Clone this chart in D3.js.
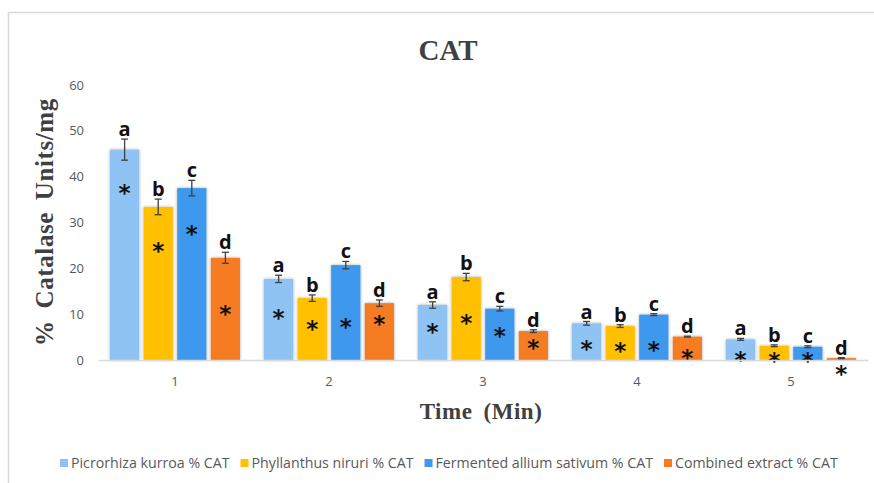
<!DOCTYPE html>
<html>
<head>
<meta charset="utf-8">
<script src="https://cdn.jsdelivr.net/npm/d3@7"></script>
<style>
	body { margin: 0; background: #fff; }
	svg { display: block; }
</style>
</head>
<body>
<div id="chart"></div>
<script>
(function () {
'use strict';

// data
var times = ["1", "2", "3", "4", "5"];
var seriesNames = [
	"Picrorhiza kurroa % CAT",
	"Phyllanthus niruri % CAT",
	"Fermented allium sativum % CAT",
	"Combined extract % CAT"
];
var seriesColors = ["#8ec3f4", "#ffc000", "#3d98ee", "#f57b22"];
var letters = ["a", "b", "c", "d"];

var picrorhiza = [45.9, 17.7, 12.0, 8.0, 4.5];
var phyllanthus = [33.4, 13.5, 18.1, 7.4, 3.1];
var allium = [37.5, 20.7, 11.2, 9.9, 2.9];
var combined = [22.3, 12.4, 6.3, 5.1, 0.4];

var picrorhizaErr = [2.3, 0.8, 0.7, 0.4, 0.2];
var phyllanthusErr = [1.7, 0.7, 0.8, 0.3, 0.2];
var alliumErr = [1.7, 0.8, 0.5, 0.2, 0.2];
var combinedErr = [1.2, 0.7, 0.3, 0.1, 0.1];

// where the asterisk sits inside each bar (data units)
var picrorhizaStar = [37.7, 10.5, 7.4, 3.8, 1.3];
var phyllanthusStar = [25.1, 8.1, 9.4, 3.3, 1.1];
var alliumStar = [28.8, 8.5, 6.5, 3.6, 1.1];
var combinedStar = [11.3, 9.2, 3.9, 1.8, -1.7];

var yTicks = [0, 10, 20, 30, 40, 50, 60];

var values = [picrorhiza, phyllanthus, allium, combined];
var errors = [picrorhizaErr, phyllanthusErr, alliumErr, combinedErr];
var stars = [picrorhizaStar, phyllanthusStar, alliumStar, combinedStar];

var width = 874, height = 483;
var margin = {top: 85, right: 6, bottom: 123, left: 98};

var svg = d3.select("#chart").append("svg")
	.attr("width", width)
	.attr("height", height);

var defs = svg.append("defs");
var shadow = defs.append("filter").attr("id", "shadow")
	.attr("x", "-20%").attr("y", "-10%").attr("width", "140%").attr("height", "120%");
shadow.append("feDropShadow")
	.attr("dx", 0).attr("dy", 0).attr("stdDeviation", 1.6)
	.attr("flood-color", "#000").attr("flood-opacity", 0.35);

// chart frame (only top and left visible in reference)
svg.append("path")
	.attr("d", "M8.5," + height + "V12.5H" + width)
	.attr("fill", "none")
	.attr("stroke", "#d9d9d9")
	.attr("stroke-width", 1.5);

var x0 = d3.scaleBand()
	.domain(times)
	.range([margin.left, width - margin.right]);

var x1 = d3.scaleBand()
	.domain(d3.range(seriesNames.length))
	.range([12, x0.bandwidth() - 12])
	.paddingInner(0.13);

var y = d3.scaleLinear()
	.domain([0, 60])
	.range([height - margin.bottom, margin.top]);

var serif = "'Liberation Serif', 'Times New Roman', serif";

// title
svg.append("text")
	.attr("x", 448).attr("y", 60)
	.attr("text-anchor", "middle")
	.attr("font-family", serif)
	.attr("font-weight", "bold")
	.attr("font-size", "29px")
	.attr("fill", "#404040")
	.text("CAT");

// y axis (labels only)
svg.append("g")
	.selectAll("text")
	.data(yTicks)
	.enter().append("text")
		.attr("x", 84)
		.attr("y", function(d){ return y(d); })
		.attr("dy", "0.35em")
		.attr("text-anchor", "end")
		.attr("font-family", "'Open Sans', 'Liberation Sans', sans-serif")
		.attr("font-size", "13px")
		.attr("fill", "#595959")
		.text(function(d){ return d; });

svg.append("text")
	.attr("transform", "translate(53,222) rotate(-90)")
	.attr("text-anchor", "middle")
	.attr("font-family", serif)
	.attr("font-weight", "bold")
	.attr("font-size", "25px")
	.attr("letter-spacing", "0.6px")
	.attr("word-spacing", "5px")
	.attr("fill", "#404040")
	.text("% Catalase Units/mg");

// bars
var groups = svg.append("g").selectAll("g")
	.data(times)
	.enter().append("g")
		.attr("transform", function(d){ return "translate(" + x0(d) + ",0)"; });

groups.each(function(t, ti){
	var g = d3.select(this);
	seriesNames.forEach(function(name, si){
		var v = values[si][ti];
		var e = errors[si][ti];
		var bx = x1(si);
		var bw = x1.bandwidth();
		var cx = bx + bw / 2;

		g.append("rect")
			.attr("x", bx)
			.attr("y", y(v))
			.attr("width", bw)
			.attr("height", y(0) - y(v))
			.attr("fill", seriesColors[si])
			.attr("filter", "url(#shadow)");

		// error bar
		var eb = g.append("g")
			.attr("stroke", "#404040")
			.attr("stroke-width", 1.3);
		eb.append("line")
			.attr("x1", cx).attr("x2", cx)
			.attr("y1", y(v + e)).attr("y2", y(v - e));
		eb.append("line")
			.attr("x1", cx - 3.5).attr("x2", cx + 3.5)
			.attr("y1", y(v + e)).attr("y2", y(v + e));
		eb.append("line")
			.attr("x1", cx - 3.5).attr("x2", cx + 3.5)
			.attr("y1", y(v - e)).attr("y2", y(v - e));

		// significance letter
		g.append("text")
			.attr("x", cx)
			.attr("y", y(v + e) - 3)
			.attr("text-anchor", "middle")
			.attr("font-family", "'Open Sans', 'Liberation Sans', sans-serif")
			.attr("font-weight", "bold")
			.attr("font-size", "20px")
			.attr("fill", "#111")
			.text(letters[si]);

		// asterisk
		g.append("text")
			.attr("x", cx)
			.attr("y", y(stars[si][ti]))
			.attr("dy", "0.62em")
			.attr("text-anchor", "middle")
			.attr("font-family", "'DejaVu Sans', sans-serif")
			.attr("font-weight", "bold")
			.attr("font-size", "23px")
			.attr("fill", "#111")
			.text("*");
	});
});

// x axis
var xAxis = svg.append("g")
	.attr("transform", "translate(0," + y(0) + ")")
	.call(d3.axisBottom(x0).tickSize(0).tickPadding(17));
xAxis.select(".domain")
	.attr("stroke", "#d9d9d9")
	.attr("stroke-width", 1.3);
xAxis.selectAll("text")
	.attr("font-family", "'Open Sans', 'Liberation Sans', sans-serif")
	.attr("font-size", "13px")
	.attr("fill", "#595959");

svg.append("text")
	.attr("x", 481).attr("y", 419)
	.attr("text-anchor", "middle")
	.attr("font-family", serif)
	.attr("font-weight", "bold")
	.attr("font-size", "23px")
	.attr("letter-spacing", "0.5px")
	.attr("word-spacing", "5px")
	.attr("fill", "#404040")
	.text("Time (Min)");

// legend
var legend = svg.append("g").attr("transform", "translate(0,463)");
var lx = 60;
seriesNames.forEach(function(name, si){
	var item = legend.append("g").attr("transform", "translate(" + lx + ",0)");
	item.append("rect")
		.attr("x", 0).attr("y", -4)
		.attr("width", 8).attr("height", 8)
		.attr("fill", seriesColors[si]);
	var txt = item.append("text")
		.attr("x", 11)
		.attr("dy", "0.35em")
		.attr("font-family", "'Open Sans', sans-serif")
		.attr("font-size", "14.2px")
		.attr("fill", "#595959")
		.text(name);
	lx += 11 + txt.node().getComputedTextLength() + 11;
});

}());
</script>
</body>
</html>
